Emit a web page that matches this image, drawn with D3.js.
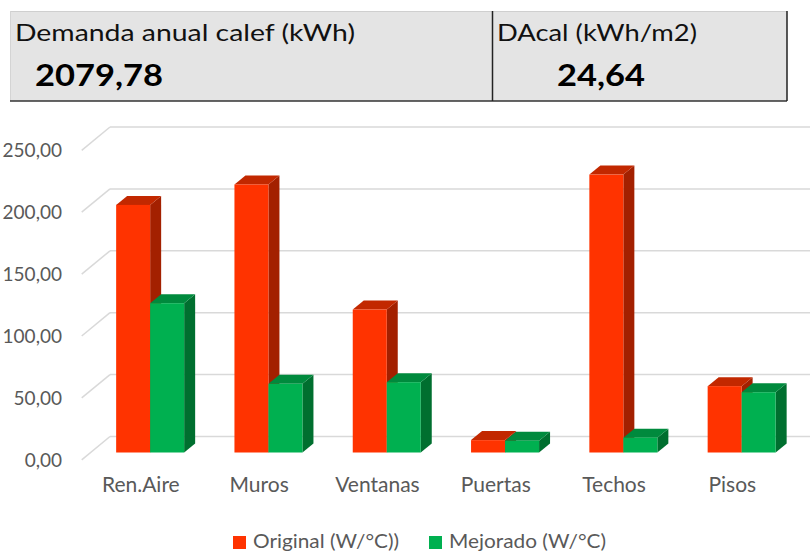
<!DOCTYPE html>
<html>
<head>
<meta charset="utf-8">
<script src="https://cdn.jsdelivr.net/npm/d3@7"></script>
<style>
  body { margin: 0; background: #fff; }
  svg { display: block; font-family: Lato, "Open Sans", sans-serif; }
</style>
</head>
<body>
<div id="chart"></div>
<script>
// datos
const categories = ["Ren.Aire", "Muros", "Ventanas", "Puertas", "Techos", "Pisos"];
const original = [200, 216.5, 115.5, 10, 224.5, 53.6];
const mejorado = [120.6, 55.5, 56.8, 9.5, 12, 48.7];
const seriesNames = ["Original (W/°C))", "Mejorado (W/°C)"];
const yTicks = [0, 50, 100, 150, 200, 250];
const header = [
    { label: "Demanda anual calef (kWh)", value: "2079,78" },
    { label: "DAcal (kWh/m2)", value: "24,64" }
];

const width = 810, height = 552;
const svg = d3.select("#chart").append("svg").attr("width", width).attr("height", height);

/**
 * CABECERA (tabla gris)
 */
const hx = 10, hy = 11, hw = 777, hh = 90, hdiv = 492.5;
svg.append("rect").attr("x", hx).attr("y", hy).attr("width", hw).attr("height", hh)
    .attr("fill", "#e4e4e4");
svg.append("line").attr("x1", hx).attr("x2", hx + hw).attr("y1", hy + 0.5).attr("y2", hy + 0.5)
    .attr("stroke", "#cfcfcf").attr("stroke-width", 1);
svg.append("line").attr("x1", hx + 0.5).attr("x2", hx + 0.5).attr("y1", hy).attr("y2", hy + hh)
    .attr("stroke", "#d4d4d4").attr("stroke-width", 1);
svg.append("line").attr("x1", hx).attr("x2", hx + hw).attr("y1", hy + hh).attr("y2", hy + hh)
    .attr("stroke", "#333").attr("stroke-width", 1.5);
svg.append("line").attr("x1", hx + hw).attr("x2", hx + hw).attr("y1", hy).attr("y2", hy + hh)
    .attr("stroke", "#222").attr("stroke-width", 1.5);
svg.append("line").attr("x1", hdiv).attr("x2", hdiv).attr("y1", hy).attr("y2", hy + hh)
    .attr("stroke", "#222").attr("stroke-width", 1.5);

const headerPos = [
    { lx: 15, vx: 35, lw: 340, vw: 128 },
    { lx: 497, vx: 557, lw: 200, vw: 88 }
];
header.forEach((h, i) => {
    const p = headerPos[i];
    svg.append("text").attr("x", p.lx).attr("y", 41)
        .attr("font-size", "23px").attr("fill", "#111")
        .attr("textLength", p.lw).attr("lengthAdjust", "spacingAndGlyphs")
        .text(h.label);
    svg.append("text").attr("x", p.vx).attr("y", 86)
        .attr("font-size", "30px").attr("font-weight", "bold").attr("fill", "#000")
        .attr("textLength", p.vw).attr("lengthAdjust", "spacingAndGlyphs")
        .text(h.value);
});

/**
 * GRAFICO 3D
 */
// pared del fondo
const x = d3.scaleBand().domain(categories).range([110, 110 + 6 * 118.3]);
const y = d3.scaleLinear().domain([0, 250]).range([436.5, 127]);
const depth = { dx: 28.3, dy: 23.3 };     // fondo -> frente
const face = { dx: 19, dy: 16 };          // desplazamiento cara frontal de barras
const barDepth = { dx: 11, dy: 9 };
const barW = 34;

const grid = svg.append("g");
yTicks.forEach(t => {
    grid.append("line")
        .attr("x1", x.range()[0]).attr("x2", width)
        .attr("y1", y(t)).attr("y2", y(t))
        .attr("stroke", "#d9d9d9").attr("stroke-width", 1.5);
    grid.append("line")
        .attr("x1", x.range()[0] - depth.dx).attr("y1", y(t) + depth.dy)
        .attr("x2", x.range()[0]).attr("y2", y(t))
        .attr("stroke", "#d9d9d9").attr("stroke-width", 1.5);
    grid.append("text")
        .attr("x", 62).attr("y", y(t) + depth.dy + 7)
        .attr("text-anchor", "end").attr("font-size", "19px").attr("fill", "#595959")
        .text(d3.format(".2f")(t).replace(".", ","));
});

const colors = [
    { front: "#ff3300", top: "#c22800", side: "#a32000" },
    { front: "#00b050", top: "#008a3d", side: "#006f2f" }
];

const bars = svg.append("g");
categories.forEach((c, i) => {
    const cx = x(c) + x.bandwidth() / 2 - face.dx;
    const base = y(0) + face.dy;
    [original[i], mejorado[i]].forEach((v, s) => {
        const x0 = cx - barW + s * barW;
        const top = y(v) + face.dy;
        const col = colors[s];
        // cara lateral
        bars.append("path")
            .attr("d", `M${x0 + barW},${top} L${x0 + barW + barDepth.dx},${top - barDepth.dy} L${x0 + barW + barDepth.dx},${base - barDepth.dy} L${x0 + barW},${base} Z`)
            .attr("fill", col.side);
        // cara superior
        bars.append("path")
            .attr("d", `M${x0},${top} L${x0 + barDepth.dx},${top - barDepth.dy} L${x0 + barW + barDepth.dx},${top - barDepth.dy} L${x0 + barW},${top} Z`)
            .attr("fill", col.top);
        // cara frontal
        bars.append("rect")
            .attr("x", x0).attr("y", top).attr("width", barW).attr("height", base - top)
            .attr("fill", col.front);
    });
});

// etiquetas de categoria
svg.append("g").selectAll("text").data(categories).enter().append("text")
    .attr("x", d => x(d) + x.bandwidth() / 2 - depth.dx)
    .attr("y", 492)
    .attr("text-anchor", "middle").attr("font-size", "21px").attr("fill", "#595959")
    .text(d => d);

/**
 * LEYENDA
 */
const legendPos = [233, 429];
const legendW = [146, 157];
seriesNames.forEach((n, s) => {
    svg.append("rect").attr("x", legendPos[s]).attr("y", 536).attr("width", 13).attr("height", 13)
        .attr("fill", colors[s].front);
    svg.append("text").attr("x", legendPos[s] + 20).attr("y", 548)
        .attr("font-size", "19px").attr("fill", "#595959")
        .attr("textLength", legendW[s]).attr("lengthAdjust", "spacingAndGlyphs")
        .text(n);
});
</script>
</body>
</html>
